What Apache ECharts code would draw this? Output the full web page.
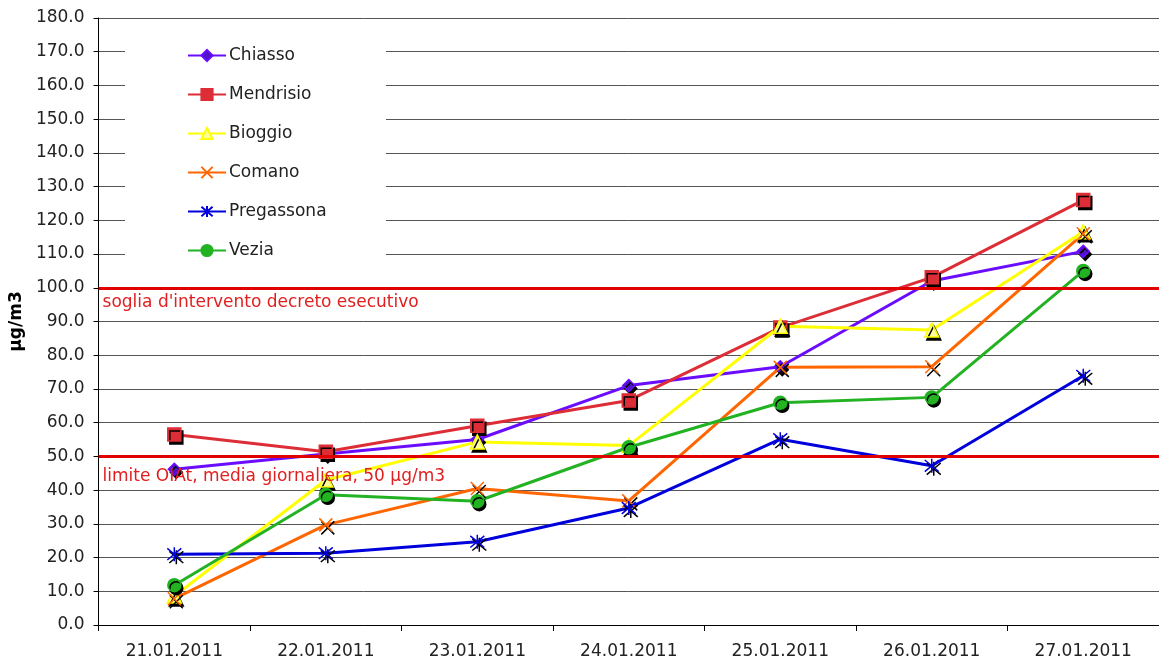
<!DOCTYPE html>
<html>
<head>
<meta charset="utf-8">
<script src="https://cdn.jsdelivr.net/npm/echarts@6/dist/echarts.min.js"></script>
<style>
  html, body { margin: 0; padding: 0; background: #fff; }
  #chart { width: 1159px; height: 662px; }
</style>
</head>
<body>
<div id="chart"></div>
<script>
// dati
const dates = ["21.01.2011", "22.01.2011", "23.01.2011", "24.01.2011", "25.01.2011", "26.01.2011", "27.01.2011"];
const chiasso = [46.2, 50.7, 55.0, 71.0, 76.6, 102.0, 110.8];
const mendrisio = [56.5, 51.4, 59.1, 66.6, 88.2, 103.1, 126.0];
const bioggio = [8.6, 43.0, 54.3, 53.2, 88.6, 87.5, 116.6];
const comano = [7.8, 29.7, 40.5, 36.8, 76.4, 76.6, 116.0];
const pregassona = [21.0, 21.3, 24.7, 34.7, 55.1, 47.2, 73.9];
const vezia = [11.8, 38.6, 36.7, 52.7, 65.9, 67.5, 105.0];
const thresholds = [100, 50];
const thresholdLabels = ["soglia d'intervento decreto esecutivo", "limite OIAt, media giornaliera, 50 µg/m3"];

const font = "'DejaVu Sans', Verdana, sans-serif";
const shadow = { shadowColor: "#000", shadowBlur: 0, shadowOffsetX: 2, shadowOffsetY: 3 };

const crossPath = "path://M0,0L10,10M10,0L0,10";
const starPath = "path://M0,0L10,10M10,0L0,10M5,-1L5,11";

const makeSeries = (name, data, color, symbol, size, fill, border) => ({
  name,
  type: "line",
  data,
  symbol,
  symbolSize: size,
  showAllSymbol: true,
  lineStyle: { color, width: 3 },
  itemStyle: Object.assign({ color: fill, borderColor: border, borderWidth: 1.5 }, shadow),
  emphasis: { disabled: true },
  z: 3
});

const chart = echarts.init(document.getElementById("chart"));
const option = {
  animation: false,
  textStyle: { fontFamily: font },
  grid: { left: 98, right: 0, top: 18, bottom: 37, containLabel: false },
  graphic: [
    {
      type: "rect",
      z: 1,
      shape: { x: 125, y: 26, width: 261, height: 246 },
      style: { fill: "#fff" }
    }
  ],
  legend: {
    orient: "vertical",
    left: 182,
    top: 42,
    itemWidth: 38,
    itemHeight: 14,
    itemGap: 22,
    data: ["Chiasso", "Mendrisio", "Bioggio", "Comano", "Pregassona", "Vezia"],
    textStyle: { fontFamily: font, fontSize: 17, color: "#222", padding: [0, 0, 0, -2] },
    itemStyle: { shadowColor: "rgba(0,0,0,0)" }
  },
  xAxis: {
    type: "category",
    data: dates,
    boundaryGap: true,
    axisLine: { lineStyle: { color: "#000", width: 1 } },
    axisTick: { show: true, length: 6, lineStyle: { color: "#000" } },
    axisLabel: { fontFamily: font, fontSize: 17, color: "#222", margin: 18 }
  },
  yAxis: {
    type: "value",
    min: 0,
    max: 180,
    interval: 10,
    name: "µg/m3",
    nameLocation: "middle",
    nameGap: 66,
    nameTextStyle: { fontFamily: font, fontSize: 17, fontWeight: "bold", color: "#000" },
    axisLine: { show: true, lineStyle: { color: "#000", width: 1 } },
    axisTick: { show: true, length: 5, lineStyle: { color: "#000" } },
    axisLabel: { fontFamily: font, fontSize: 17, color: "#222", margin: 14, formatter: v => v.toFixed(1) },
    splitLine: { show: true, lineStyle: { color: "#555", width: 1 } }
  },
  series: [
    {
      name: "soglie",
      type: "line",
      data: [],
      z: 2,
      silent: true,
      markLine: {
        silent: true,
        symbol: "none",
        lineStyle: { color: "#E00000", width: 3, type: "solid" },
        label: {
          position: "insideStartBottom",
          fontFamily: font,
          fontSize: 17,
          color: "#E02020"
        },
        data: thresholds.map((t, i) => ({
          yAxis: t,
          label: { formatter: thresholdLabels[i], distance: i === 0 ? [4, 6] : [4, 12] }
        }))
      }
    },
    makeSeries("Chiasso", chiasso, "#6A0DFF", "diamond", 12, "#5014C8", "#6A0DFF"),
    makeSeries("Mendrisio", mendrisio, "#DD2D36", "rect", 13, "#DD2D36", "#DD2D36"),
    makeSeries("Bioggio", bioggio, "#FFFF00", "triangle", 14, "#FFFF99", "#FFFF00"),
    makeSeries("Comano", comano, "#FF6600", crossPath, 13, "rgba(0,0,0,0)", "#FF6600"),
    makeSeries("Pregassona", pregassona, "#0000DD", starPath, 14, "rgba(0,0,0,0)", "#0000DD"),
    makeSeries("Vezia", vezia, "#22B222", "circle", 13, "#22B222", "#22B222")
  ]
};
chart.setOption(option);
</script>
</body>
</html>
